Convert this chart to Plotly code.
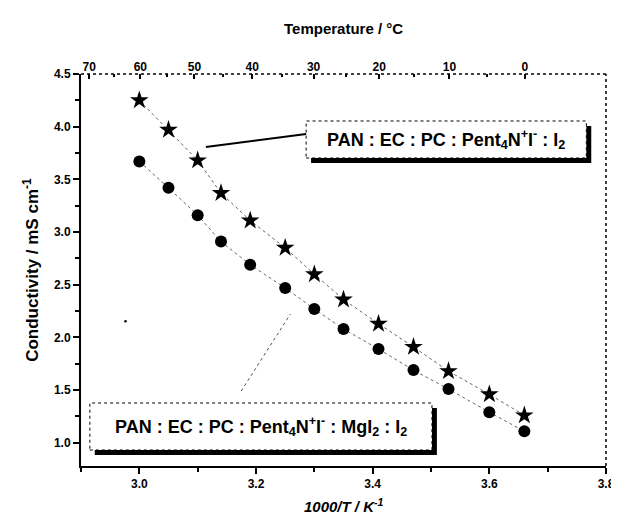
import plotly.graph_objects as go

# ---- data ----
inv_temp = [3.00, 3.05, 3.10, 3.14, 3.19, 3.25, 3.30, 3.35, 3.41, 3.47, 3.53, 3.60, 3.66]
cond_pent = [4.25, 3.97, 3.68, 3.37, 3.11, 2.85, 2.60, 2.36, 2.13, 1.91, 1.68, 1.46, 1.26]
cond_pent_mg = [3.67, 3.42, 3.16, 2.91, 2.69, 2.47, 2.27, 2.08, 1.89, 1.69, 1.51, 1.29, 1.11]
top_ticks_c = [70, 60, 50, 40, 30, 20, 10, 0]
top_minor_c = [65, 55, 45, 35, 25, 15, 5]
label_pent = "PAN : EC : PC : Pent<sub>4</sub>N<sup>+</sup>I<sup>-</sup> : I<sub>2</sub>"
label_pent_mg = "PAN : EC : PC : Pent<sub>4</sub>N<sup>+</sup>I<sup>-</sup> : MgI<sub>2</sub> : I<sub>2</sub>"

W, H = 619, 517
L, R, T, B = 73, 607, 66, 458   # plot area in pixels
X_RANGE = [2.9, 3.8]
Y_RANGE = [0.78, 4.5]

def px(x):
    return (x - L) / (R - L)

def py(y):
    return (B - y) / (B - T)

FONT = "Liberation Sans, Arial, sans-serif"

fig = go.Figure()
fig.add_trace(go.Scatter(
    x=inv_temp, y=cond_pent, mode="lines+markers",
    line=dict(color="#666", width=1, dash="dot"),
    marker=dict(symbol="star", size=14, color="black"),
    showlegend=False, hoverinfo="skip"))
fig.add_trace(go.Scatter(
    x=inv_temp, y=cond_pent_mg, mode="lines+markers",
    line=dict(color="#666", width=1, dash="dot"),
    marker=dict(symbol="circle", size=12, color="black"),
    showlegend=False, hoverinfo="skip"))
# carrier for top axis
fig.add_trace(go.Scatter(x=X_RANGE, y=[None, None], xaxis="x2", mode="markers",
                         showlegend=False, hoverinfo="skip"))

top_vals = [1000.0 / (t + 273.15) for t in top_ticks_c]
top_minor_vals = [1000.0 / (t + 273.15) for t in top_minor_c]

tickfont = dict(family=FONT, size=12, color="black", weight="bold")

shapes = []
annotations = []

# dotted top and right frame lines
shapes.append(dict(type="line", xref="paper", yref="paper", x0=0, x1=1, y0=1, y1=1,
                   line=dict(color="black", width=1.5, dash="dot")))
shapes.append(dict(type="line", xref="paper", yref="paper", x0=1, x1=1, y0=0, y1=1,
                   line=dict(color="black", width=1.5, dash="dot")))

def legend_box(x0, y0, x1, y1, text, size):
    shapes.append(dict(type="rect", xref="paper", yref="paper",
                       x0=px(x0 + 5), x1=px(x1 + 5), y0=py(y1 + 5), y1=py(y0 + 5),
                       fillcolor="black", line=dict(width=0), layer="above"))
    shapes.append(dict(type="rect", xref="paper", yref="paper",
                       x0=px(x0), x1=px(x1), y0=py(y1), y1=py(y0),
                       fillcolor="white", line=dict(color="black", width=1, dash="dot"),
                       layer="above"))
    annotations.append(dict(xref="paper", yref="paper", x=px((x0 + x1) / 2),
                            y=py((y0 + y1) / 2), text=text, showarrow=False,
                            xanchor="center", yanchor="middle",
                            font=dict(family=FONT, size=size, color="black", weight="bold")))

legend_box(302, 113, 587, 150, label_pent, 18)
legend_box(82, 395, 430, 442, label_pent_mg, 18)

# leader lines
shapes.append(dict(type="line", xref="paper", yref="paper",
                   x0=px(200), y0=py(139), x1=px(302), y1=py(126),
                   line=dict(color="black", width=2)))
shapes.append(dict(type="line", xref="paper", yref="paper",
                   x0=px(236), y0=py(383), x1=px(286), y1=py(306),
                   line=dict(color="#555", width=1, dash="dot")))
# stray dot
shapes.append(dict(type="circle", xref="paper", yref="paper",
                   x0=px(117), x1=px(119.5), y0=py(314.5), y1=py(312),
                   fillcolor="black", line=dict(width=0)))

# axis titles
annotations.append(dict(xref="paper", yref="paper", x=0.5, y=py(21),
                        text="<b>Temperature / °C</b>", showarrow=False,
                        xanchor="center", yanchor="middle",
                        font=dict(family=FONT, size=15, color="black")))
annotations.append(dict(xref="paper", yref="paper", x=0.5, y=py(497),
                        text="<b><i>1000/T / K<sup>-1</sup></i></b>", showarrow=False,
                        xanchor="center", yanchor="middle",
                        font=dict(family=FONT, size=15, color="black")))
annotations.append(dict(xref="paper", yref="paper", x=px(22), y=0.5,
                        text="<b>Conductivity / mS cm<sup>-1</sup></b>", showarrow=False,
                        textangle=-90, xanchor="center", yanchor="middle",
                        font=dict(family=FONT, size=17, color="black")))

fig.update_layout(
    width=W, height=H,
    margin=dict(l=L, r=W - R, t=T, b=H - B),
    plot_bgcolor="white", paper_bgcolor="white",
    xaxis=dict(range=X_RANGE, tickmode="linear", tick0=3.0, dtick=0.2, tickformat=".1f",
               tickprefix="<b>", ticksuffix="</b>",
               showline=True, linecolor="black", linewidth=2, mirror=False,
               ticks="outside", ticklen=6, tickwidth=1.5, tickcolor="black",
               showgrid=False, zeroline=False, tickfont=tickfont,
               minor=dict(dtick=0.1, tick0=3.0, ticks="outside", ticklen=4,
                          tickwidth=1.5, tickcolor="black", showgrid=False)),
    xaxis2=dict(range=X_RANGE, overlaying="x", side="top", anchor="y",
                tickmode="array", tickvals=top_vals,
                ticktext=["<b>%d</b>" % t for t in top_ticks_c],
                showline=False, ticks="inside", ticklen=5, tickwidth=1.5, tickcolor="black",
                showgrid=False, zeroline=False, tickfont=tickfont,
                minor=dict(tickmode="array", tickvals=top_minor_vals, ticks="inside",
                           ticklen=3, tickwidth=1.5, tickcolor="black", showgrid=False)),
    yaxis=dict(range=Y_RANGE, tickmode="linear", tick0=1.0, dtick=0.5, tickformat=".1f",
               tickprefix="<b>", ticksuffix="</b>",
               showline=True, linecolor="black", linewidth=2, mirror=False,
               ticks="outside", ticklen=6, tickwidth=1.5, tickcolor="black",
               showgrid=False, zeroline=False, tickfont=tickfont,
               minor=dict(dtick=0.25, tick0=1.0, ticks="outside", ticklen=4,
                          tickwidth=1.5, tickcolor="black", showgrid=False)),
    shapes=shapes,
    annotations=annotations,
)

fig.write_html("out.html")
